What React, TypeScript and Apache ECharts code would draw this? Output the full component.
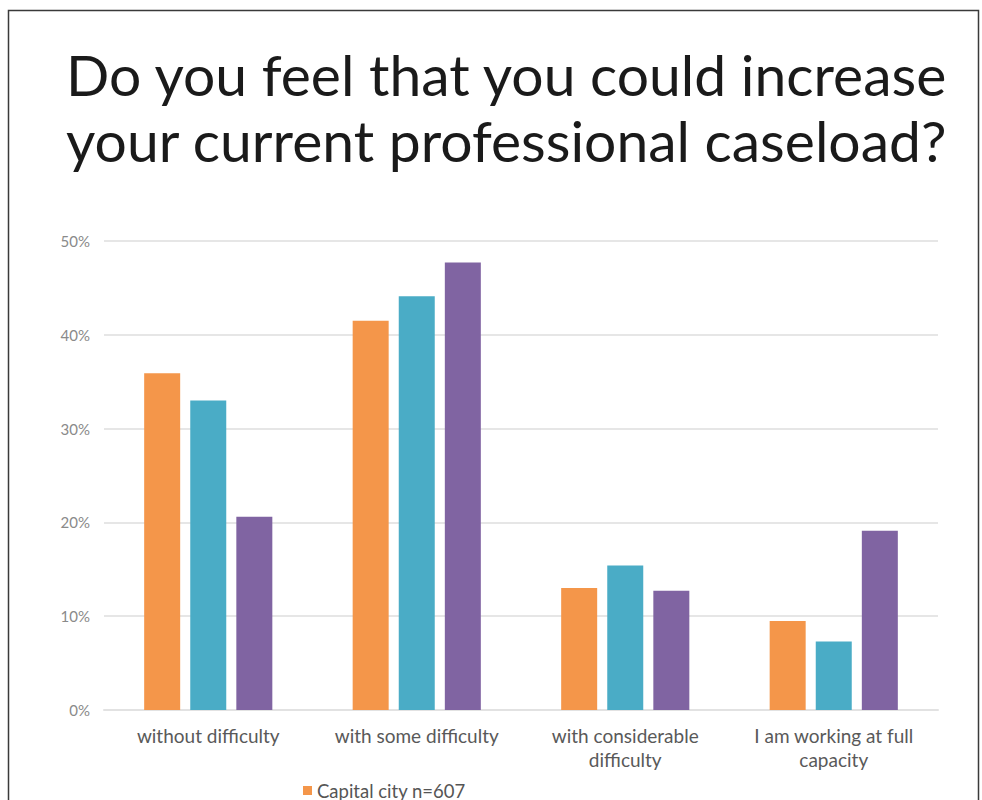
import React, { useEffect, useRef } from "react";
import * as echarts from "echarts";

const categories = [
  "without difficulty",
  "with some difficulty",
  "with considerable\ndifficulty",
  "I am working at full\ncapacity",
];
const capitalCity = [35.9, 41.5, 13.0, 9.5];
const seriesTeal = [33.0, 44.1, 15.4, 7.3];
const seriesPurple = [20.6, 47.7, 12.7, 19.1];
const seriesNames = ["Capital city n=607", "Series 2", "Series 3"];
const yTicks = { min: 0, max: 50, interval: 10 };

export default function App() {
  const ref = useRef<HTMLDivElement>(null);
  useEffect(() => {
    document.body.style.margin = "0";
    const chart = echarts.init(ref.current!, undefined, { renderer: "svg" });
    const font = "Lato, 'Noto Sans', sans-serif";
    chart.setOption({
      animation: false,
      backgroundColor: "#ffffff",
      title: {
        text: "Do you feel that you could increase\nyour current professional caseload?",
        left: 61,
        top: 36,
        textStyle: {
          fontFamily: font,
          fontWeight: "normal",
          fontSize: 57,
          lineHeight: 66,
          color: "#1a1a1a",
        },
      },
      graphic: [
        {
          type: "rect",
          left: 6,
          top: 8,
          shape: { width: 970, height: 820 },
          style: { fill: "none", stroke: "#3a3a3a", lineWidth: 1.5 },
          silent: true,
          z: -1,
        },
      ],
      legend: {
        data: [seriesNames[0]],
        left: 298,
        top: 776,
        itemWidth: 9,
        itemHeight: 9,
        itemGap: 6,
        icon: "rect",
        textStyle: { fontFamily: font, fontSize: 18.5, color: "#555555" },
      },
      grid: { left: 104, right: 44, top: 241, bottom: 90, containLabel: false },
      xAxis: {
        type: "category",
        data: categories,
        axisLine: { lineStyle: { color: "#e2e2e2", width: 2 } },
        axisTick: { show: false },
        axisLabel: {
          interval: 0,
          margin: 13,
          fontFamily: font,
          fontSize: 19,
          lineHeight: 24,
          color: "#595959",
        },
      },
      yAxis: {
        type: "value",
        min: yTicks.min,
        max: yTicks.max,
        interval: yTicks.interval,
        axisLine: { show: false },
        axisTick: { show: false },
        axisLabel: {
          formatter: "{value}%",
          fontFamily: font,
          fontSize: 15,
          color: "#8a8a8a",
          margin: 14,
        },
        splitLine: { lineStyle: { color: "#e6e6e6", width: 2 } },
      },
      series: [
        {
          name: seriesNames[0],
          type: "bar",
          data: capitalCity,
          itemStyle: { color: "#F4964A" },
          barWidth: 36,
          barGap: "28%",
        },
        {
          name: seriesNames[1],
          type: "bar",
          data: seriesTeal,
          itemStyle: { color: "#4AACC6" },
          barWidth: 36,
          barGap: "28%",
        },
        {
          name: seriesNames[2],
          type: "bar",
          data: seriesPurple,
          itemStyle: { color: "#8064A2" },
          barWidth: 36,
          barGap: "28%",
        },
      ],
    });
    return () => chart.dispose();
  }, []);
  return <div ref={ref} style={{ width: 982, height: 800 }} />;
}
